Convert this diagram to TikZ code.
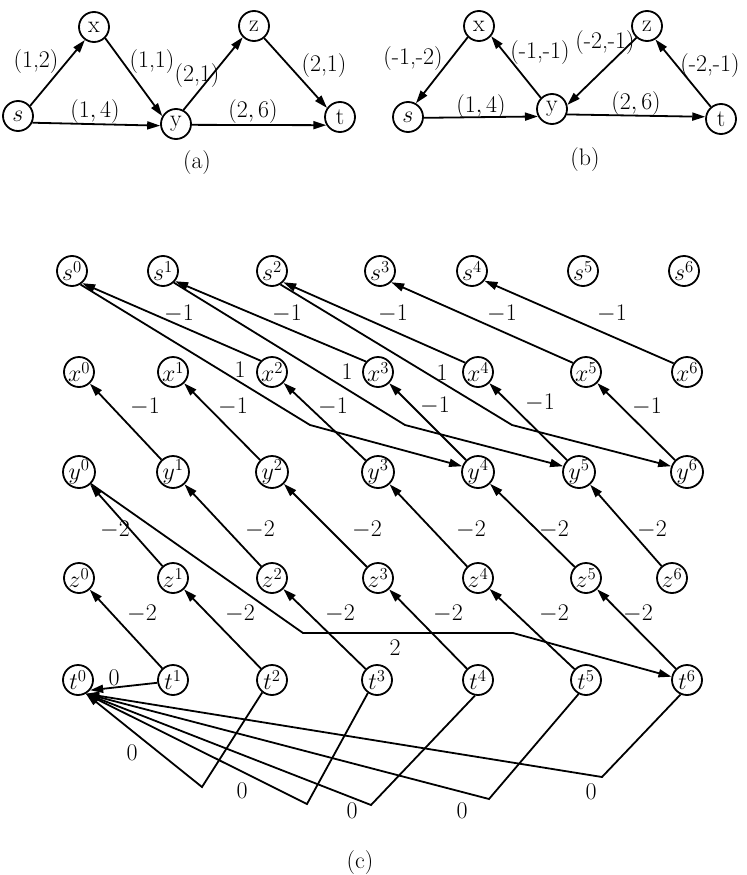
\RequirePackage{fix-cm}
\documentclass[tikz,border=0pt]{standalone}
\usetikzlibrary{arrows.meta}
\tikzset{
  vtx/.style={circle, draw, line width=1.8bp, minimum size=30bp, inner sep=0pt, font=\fontsize{24}{28}\selectfont},
  arr/.style={line width=1.8bp, -{Triangle[length=13bp,width=8bp]}},
  lbl/.style={inner sep=0pt, font=\fontsize{24}{28}\selectfont},
}
\begin{document}
\begin{tikzpicture}[x=1bp,y=-1bp]
\useasboundingbox (0,0) rectangle (747,875);
% ---------- (a) ----------
\node[vtx] (as) at (18,116) {$s$};
\node[vtx] (ax) at (94,27) {x};
\node[vtx] (ay) at (176,124) {y};
\node[vtx] (az) at (254,26) {z};
\node[vtx] (at) at (340,117) {t};
\draw[arr] (as.40) -- (ax.235);
\draw[arr] (ax.-45) -- (ay.150);
\draw[arr] (as.-25) -- (ay.186);
\draw[arr] (ay.62) -- (az.225);
\draw[arr] (az.-50) -- (at.145);
\draw[arr] (ay.-3) -- (at.211);
\node[lbl] (la1) at (36,62) {(1,2)};
\node[lbl] (la2) at (152,62) {(1,1)};
\node[lbl] (la3) at (95,112) {$(1,4)$};
\node[lbl] (la4) at (197,76) {(2,1)};
\node[lbl] (la5) at (324,66) {(2,1)};
\node[lbl] (la6) at (253,112) {$(2,6)$};
\node[lbl] (capa) at (197,163) {(a)};
% ---------- (b) ----------
\node[vtx] (bx) at (479,26) {x};
\node[vtx] (bs) at (408,117) {$s$};
\node[vtx] (by) at (552,109) {y};
\node[vtx] (bz) at (647,26) {z};
\node[vtx] (bt) at (721,119) {t};
\draw[arr] (bx.225) -- (bs.60);
\draw[arr] (by.135) -- (bx.-40);
\draw[arr] (bz.228) -- (by.15);
\draw[arr] (bt.130) -- (bz.-58);
\draw[arr] (bs.-3) -- (by.208);
\draw[arr] (by.-20) -- (bt.172);
\node[lbl] (lb1) at (413,59) {(-1,-2)};
\node[lbl] (lb2) at (540,53) {(-1,-1)};
\node[lbl] (lb3) at (605,43) {(-2,-1)};
\node[lbl] (lb4) at (710,66) {(-2,-1)};
\node[lbl] (lb5) at (481,107) {$(1,4)$};
\node[lbl] (lb6) at (636,104) {$(2,6)$};
\node[lbl] (capb) at (585,160) {(b)};
% ---------- (c) nodes ----------
\foreach \i/\xx in {0/72,1/163,2/272,3/380,4/472,5/583,6/684}
  \node[vtx] (s\i) at (\xx,271) {$s^{\i}$};
\foreach \i/\xx in {0/79,1/173,2/272,3/378,4/478,5/586,6/687}
  \node[vtx] (x\i) at (\xx,372) {$x^{\i}$};
\foreach \i/\xx in {0/79,1/173,2/272,3/378,4/478,5/579,6/687}
  \node[vtx] (y\i) at (\xx,472) {$y^{\i}$};
\foreach \i/\xx in {0/79,1/173,2/272,3/378,4/478,5/586,6/672}
  \node[vtx] (z\i) at (\xx,578) {$z^{\i}$};
\foreach \i/\xx in {0/78,1/173,2/272,3/377,4/478,5/586,6/687}
  \node[vtx] (t\i) at (\xx,680) {$t^{\i}$};
% x -> s
\draw[arr] (x2.135) -- (s0.-50);
\draw[arr] (x3.139) -- (s1.-40);
\draw[arr] (x4.144) -- (s2.-45);
\draw[arr] (x5.145) -- (s3.-45);
\draw[arr] (x6.147) -- (s4.-38);
% y -> x
\foreach \a/\b in {1/0,2/1,3/2,4/3,5/4,6/5}
  \draw[arr] (y\a) -- (x\b);
% z -> y
\foreach \a/\b in {1/0,2/1,3/2,4/3,5/4,6/5}
  \draw[arr] (z\a) -- (y\b);
% t -> z
\foreach \a/\b in {1/0,2/1,3/2,4/3,5/4,6/5}
  \draw[arr] (t\a) -- (z\b);
% s -> y (bent)
\coordinate (b0) at (310,425);
\coordinate (b1) at (405,425);
\coordinate (b2) at (512,425);
\draw[arr] (s0.-58) -- (b0) -- (y4.160);
\draw[arr] (s1.-47) -- (b1) -- (y5.160);
\draw[arr] (s2.-58) -- (b2) -- (y6.160);
% y0 -> t6
\coordinate (c1) at (303,633);
\coordinate (c2) at (513,633);
\draw[arr] (y0.-45) -- (c1) -- (c2) -- (t6.168);
% t -> t0
\coordinate (d2) at (202,787);
\coordinate (d3) at (307,804);
\coordinate (d4) at (371,805);
\coordinate (d5) at (489,799);
\coordinate (d6) at (602,777);
\draw[arr] (t1.190) -- (t0.-40);
\draw[arr] (t2.232) -- (d2) -- (t0.-60);
\draw[arr] (t3.235) -- (d3) -- (t0.-60);
\draw[arr] (t4.259) -- (d4) -- (t0.-60);
\draw[arr] (t5.242) -- (d5) -- (t0.-60);
\draw[arr] (t6.246) -- (d6) -- (t0.-60);
% labels (c)
\foreach \n/\xx in {1/179,2/287,3/393,4/502,5/612}
  \node[lbl] (lxs\n) at (\xx,314) {$-1$};
\foreach \n/\xx/\yy in {1/240/370,2/347/372,3/442/373}
  \node[lbl] (lsy\n) at (\xx,\yy) {$1$};
\foreach \n/\xx/\yy in {1/145/407,2/233/407,3/333/407,4/435/406,5/540/403,6/647/407}
  \node[lbl] (lyx\n) at (\xx,\yy) {$-1$};
\foreach \n/\xx in {1/115,2/260,3/367,4/471,5/554,6/652}
  \node[lbl] (lzy\n) at (\xx,530) {$-2$};
\foreach \n/\xx in {1/142,2/240,3/340,4/448,5/554,6/638}
  \node[lbl] (ltz\n) at (\xx,614) {$-2$};
\node[lbl] (lyt) at (395,648) {$2$};
\foreach \n/\xx/\yy in {1/114/678,2/132/753,3/242/791,4/352/811,5/462/811,6/591/792}
  \node[lbl] (ltt\n) at (\xx,\yy) {$0$};
\node[lbl] (capc) at (360,863) {(c)};
\end{tikzpicture}
\end{document}
